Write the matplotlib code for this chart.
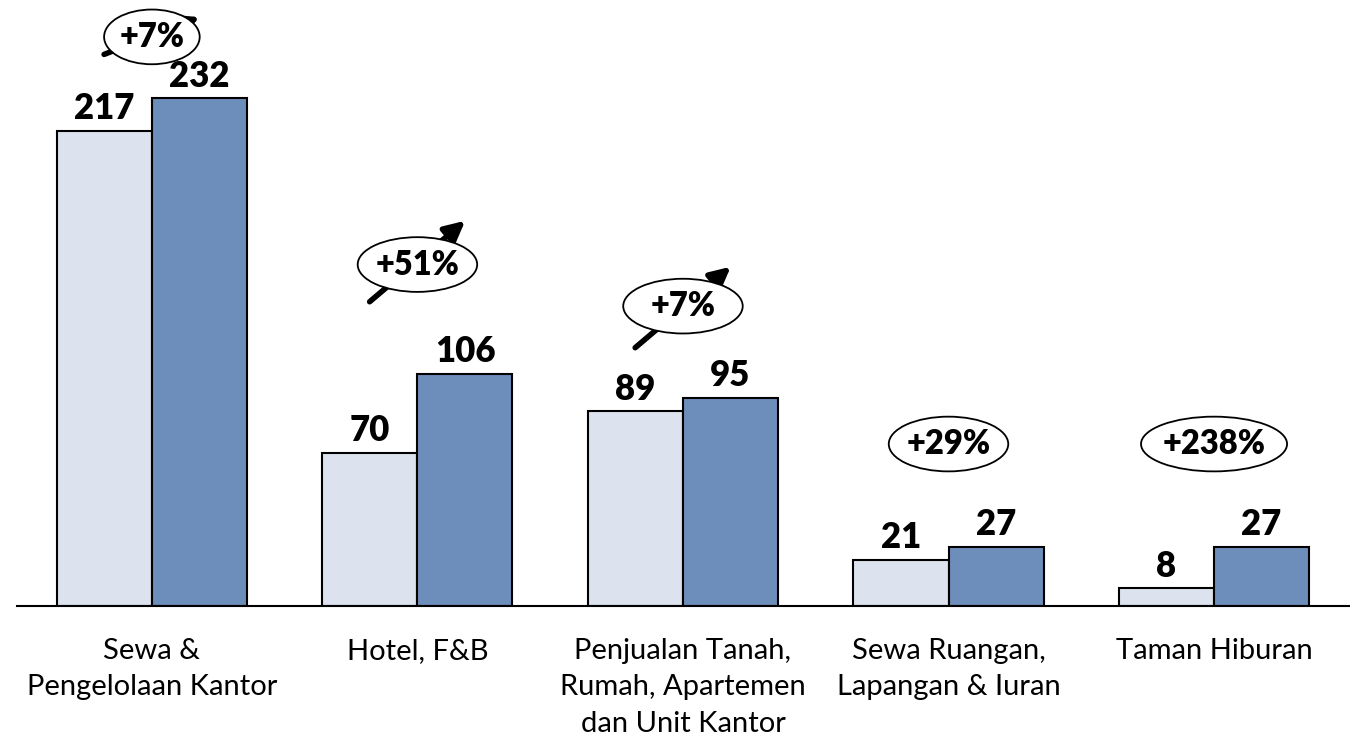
import matplotlib.pyplot as plt
from matplotlib.patches import Ellipse

categories = [
    "Sewa &\nPengelolaan Kantor",
    "Hotel, F&B",
    "Penjualan Tanah,\nRumah, Apartemen\ndan Unit Kantor",
    "Sewa Ruangan,\nLapangan & Iuran",
    "Taman Hiburan",
]
prev_values = [217, 70, 89, 21, 8]
curr_values = [232, 106, 95, 27, 27]
growth_labels = ["+7%", "+51%", "+7%", "+29%", "+238%"]
# centre heights of the growth bubbles (data units) and whether an arrow is drawn
bubble_y = [260, 156, 137, 74, 74]
bubble_w = [0.36, 0.45, 0.45, 0.45, 0.55]
arrow_dy = [(-8, 9), (-17, 20), (-19, 18), None, None]

c_prev = "#dde3ee"
c_curr = "#6d8dbb"

plt.rcParams["font.family"] = ["Lato", "DejaVu Sans"]

fig = plt.figure(figsize=(13.5, 7.4), dpi=100)
ax = fig.add_axes([17 / 1350, 134 / 740, 1333 / 1350, 591 / 740])

x = list(range(len(categories)))
w = 0.358
ax.bar([i - w / 2 for i in x], prev_values, w, color=c_prev, edgecolor="black", lw=1.5, zorder=2)
ax.bar([i + w / 2 for i in x], curr_values, w, color=c_curr, edgecolor="black", lw=1.5, zorder=2)

for i in x:
    ax.annotate(str(prev_values[i]), (i - w / 2, prev_values[i]), xytext=(0, 4),
                textcoords="offset points", ha="center", va="bottom",
                fontsize=25, fontweight="heavy")
    ax.annotate(str(curr_values[i]), (i + w / 2, curr_values[i]), xytext=(0, 4),
                textcoords="offset points", ha="center", va="bottom",
                fontsize=25, fontweight="heavy")

    yc = bubble_y[i]
    if arrow_dy[i] is not None:
        ax.annotate("", xy=(i + 0.18, yc + arrow_dy[i][1]), xytext=(i - 0.18, yc + arrow_dy[i][0]),
                    arrowprops=dict(arrowstyle="-|>", lw=4, mutation_scale=30, color="black",
                                    shrinkA=0, shrinkB=0),
                    annotation_clip=False, zorder=3)
    e = Ellipse((i, yc), bubble_w[i], 25, facecolor="white", edgecolor="black", lw=1.3,
                zorder=4, clip_on=False)
    ax.add_patch(e)
    ax.text(i, yc, growth_labels[i], ha="center", va="center", fontsize=23.5,
            fontweight="heavy", zorder=5)

ax.set_xlim(-0.508, 4.512)
ax.set_ylim(0, 270)
ax.set_xticks(x)
ax.set_xticklabels(categories, fontsize=21, linespacing=1.5, va="top")
ax.tick_params(axis="x", length=0, pad=23)
ax.set_yticks([])
for s in ["left", "right", "top"]:
    ax.spines[s].set_visible(False)
ax.spines["bottom"].set_linewidth(1.5)

fig.savefig("out.png", dpi=100)
